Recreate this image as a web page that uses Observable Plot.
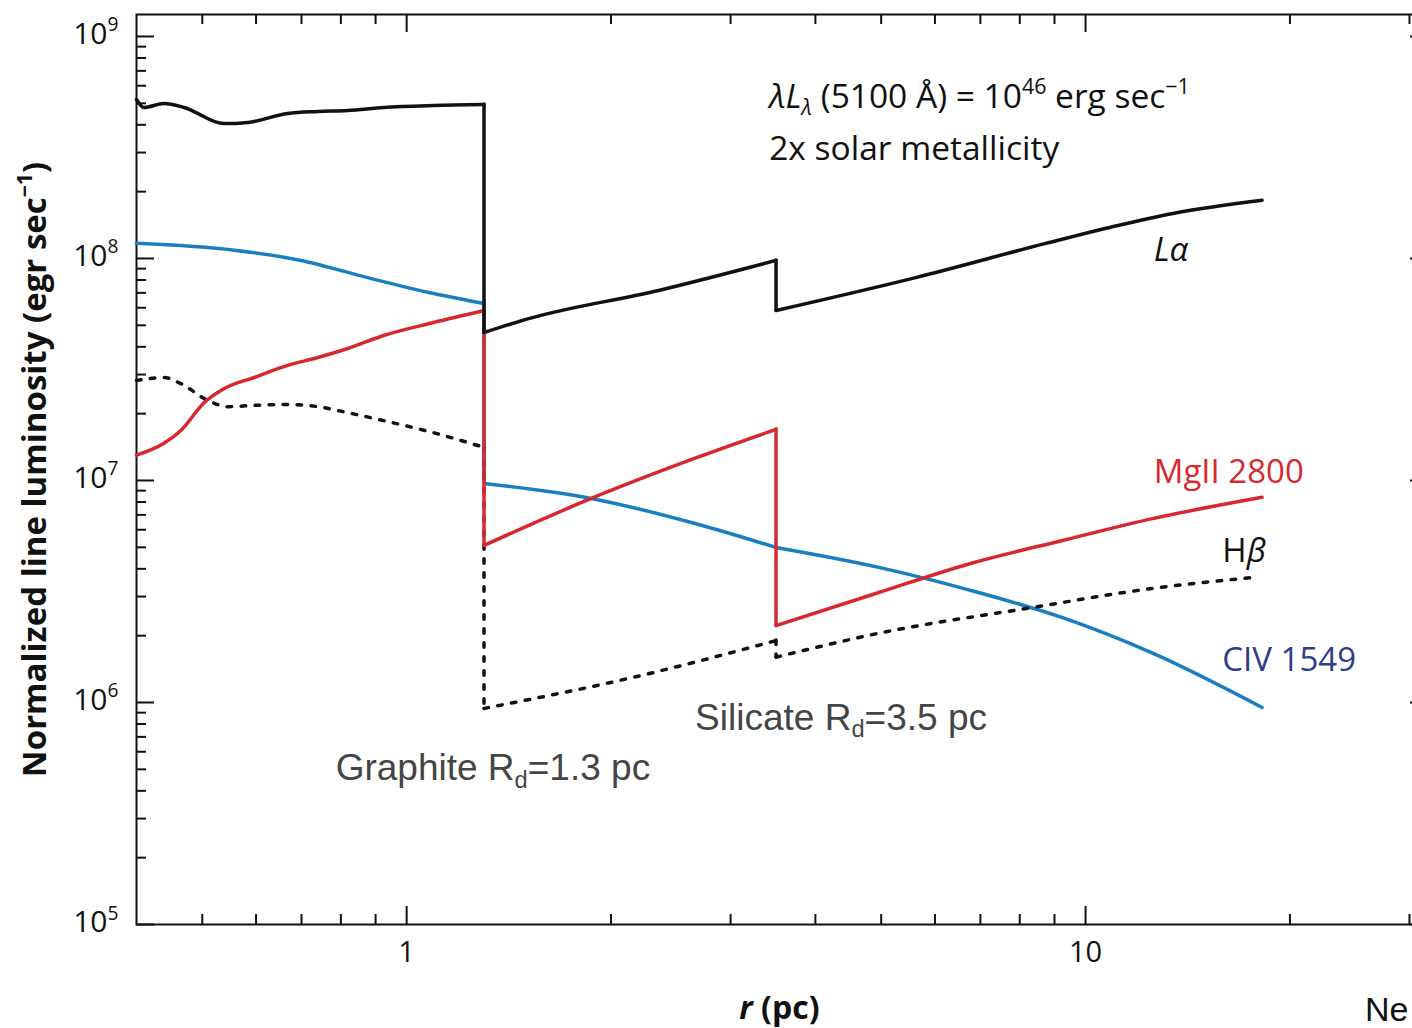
<!DOCTYPE html>
<html>
<head>
<meta charset="utf-8">
<script src="https://cdn.jsdelivr.net/npm/d3@7"></script>
<script src="https://cdn.jsdelivr.net/npm/@observablehq/plot@0.6"></script>
<style>
  html, body { margin: 0; padding: 0; overflow: hidden; background: #fff; }
  #chart { width: 1412px; height: 1028px; overflow: hidden; position: relative; }
  #chart svg { display: block; overflow: hidden; }
</style>
</head>
<body>
<div id="chart"></div>
<script>
// Radius (pc) and normalized line luminosity (erg/s) for each emission line.
// A repeated radius marks a break: a sudden drop at the graphite (1.3 pc) or silicate (3.5 pc) dust radius.
const lyaR = [0.4, 0.41, 0.439, 0.47, 0.538, 0.584, 0.668, 0.74, 0.819, 0.925, 1.096, 1.3,
              1.3, 1.517, 2.35, 3.5, 3.5, 5.62, 8.74, 10.85, 13.5, 18.2];
const lyaL = [5.2e8, 4.79e8, 4.99e8, 4.79e8, 4.05e8, 4.10e8, 4.50e8, 4.59e8, 4.64e8, 4.79e8, 4.89e8, 4.94e8,
              4.64e7, 5.37e7, 7.18e7, 9.8e7, 5.83e7, 8.2e7, 1.17e8, 1.38e8, 1.60e8, 1.83e8];

const civR = [0.4, 0.557, 0.699, 0.876, 1.096, 1.3, 1.3, 1.87, 2.66, 3.5, 3.5, 4.96, 6.77, 9.25, 12.6, 18.2];
const civL = [1.17e8, 1.09e8, 9.8e7, 8.2e7, 6.95e7, 6.27e7, 9.7e6, 8.3e6, 6.4e6, 4.99e6, 4.99e6, 4.06e6, 3.2e6,
              2.41e6, 1.66e6, 9.5e5];

const mgR = [0.4, 0.439, 0.465, 0.503, 0.538, 0.596, 0.668, 0.74, 0.819, 0.925, 1.096, 1.3,
             1.3, 1.87, 2.66, 3.5, 3.5, 4.96, 6.77, 9.25, 12.6, 18.2];
const mgL = [1.30e7, 1.47e7, 1.68e7, 2.24e7, 2.59e7, 2.91e7, 3.30e7, 3.58e7, 3.93e7, 4.50e7, 5.15e7, 5.83e7,
             5.1e6, 8.3e6, 1.26e7, 1.70e7, 2.22e6, 3.13e6, 4.23e6, 5.37e6, 6.75e6, 8.4e6];

const hbR = [0.4, 0.439, 0.465, 0.51, 0.545, 0.596, 0.668, 0.74, 0.819, 0.925, 1.096, 1.3,
             1.3, 2.16, 3.5, 3.5, 4.96, 8.36, 12.6, 17.7];
const hbL = [2.82e7, 2.91e7, 2.73e7, 2.29e7, 2.15e7, 2.18e7, 2.20e7, 2.15e7, 2.02e7, 1.86e7, 1.64e7, 1.41e7,
             9.4e5, 1.30e6, 1.90e6, 1.60e6, 2.05e6, 2.68e6, 3.27e6, 3.66e6];

// Axis ticks
const xMajor = [1, 10];
const xMinor = [0.5, 0.6, 0.7, 0.8, 0.9, 2, 3, 4, 5, 6, 7, 8, 9, 20, 30];
const xTickLabels = ["1", "10"];
const yMajor = [1e5, 1e6, 1e7, 1e8, 1e9];
const yMinor = [5, 6, 7, 8].flatMap(k => [2, 3, 4, 5, 6, 7, 8, 9].map(m => m * 10 ** k));
const yTickLabels = ["10^{5}", "10^{6}", "10^{7}", "10^{8}", "10^{9}"];

// Text annotations placed in data coordinates (^{} superscript, _{} subscript, *..* italic)
const headerNotes = [
  {r: 3.42, L: 5.31e8, text: "*λL*_{*λ*} (5100 Å) = 10^{46} erg sec^{−1}"},
  {r: 3.42, L: 3.10e8, text: "2x solar metallicity"}
];
const lineNotes = [
  {r: 12.6, L: 1.09e8, text: "*Lα*", color: "#111111"},
  {r: 12.6, L: 1.09e7, text: "MgII 2800", color: "#d7282f"},
  {r: 15.9, L: 4.79e6, text: "H*β*", color: "#111111"},
  {r: 15.9, L: 1.55e6, text: "CIV 1549", color: "#2e3b8e"}
];
const dustNotes = [
  {r: 2.66, L: 8.5e5, text: "Silicate R_{d}=3.5 pc"},
  {r: 0.786, L: 5.05e5, text: "Graphite R_{d}=1.3 pc"}
];

// Split a series into smooth pieces at each break, keeping the vertical drops.
function pieces(R, L) {
  let seg = 0;
  const pts = [], drops = [];
  R.forEach((r, i) => {
    if (i > 0 && R[i - 1] === r) {
      if (L[i - 1] !== L[i]) drops.push({r, L1: L[i - 1], L2: L[i]});
      seg++;
    }
    pts.push({r, L: L[i], seg});
  });
  return {pts, drops};
}
const lya = pieces(lyaR, lyaL);
const civ = pieces(civR, civL);
const mg = pieces(mgR, mgL);
const hb = pieces(hbR, hbL);

const W = 1412, H = 1028;
const mL = 136, mR = -16, mT = 14, mB = 104;   // right edge of the frame lies just past the page
const fw = W - mL - mR, fh = H - mT - mB;
const major = 18, minor = 10;
const sans = "'Open Sans', sans-serif";
const arial = "'Liberation Sans', Arial, sans-serif";

function seriesMarks(s, stroke, extra = {}) {
  return [
    Plot.line(s.pts, {x: "r", y: "L", z: "seg", curve: "monotone-x", stroke, strokeWidth: 3.5,
      strokeLinecap: "round", ...extra}),
    Plot.ruleX(s.drops, {x: "r", y1: "L1", y2: "L2", stroke, strokeWidth: 3.5, strokeLinecap: "round", ...extra})
  ];
}
const dashed = {strokeDasharray: "4.5,9.5"};

const plot = Plot.plot({
  width: W, height: H,
  marginLeft: mL, marginRight: mR, marginTop: mT, marginBottom: mB,
  x: {type: "log", domain: [0.4, 32], axis: null},
  y: {type: "log", domain: [1e5, 1.256e9], axis: null},
  style: {fontFamily: sans, background: "#fff", color: "#111", overflow: "hidden"},
  marks: [
    // inward ticks on all four sides
    Plot.ruleX(xMajor, {x: d => d, insetTop: fh - major, stroke: "#111", strokeWidth: 2}),
    Plot.ruleX(xMajor, {x: d => d, insetBottom: fh - major, stroke: "#111", strokeWidth: 2}),
    Plot.ruleX(xMinor, {x: d => d, insetTop: fh - minor, stroke: "#111", strokeWidth: 2}),
    Plot.ruleX(xMinor, {x: d => d, insetBottom: fh - minor, stroke: "#111", strokeWidth: 2}),
    Plot.ruleY(yMajor, {y: d => d, insetRight: fw - major, stroke: "#111", strokeWidth: 2}),
    Plot.ruleY(yMajor, {y: d => d, insetLeft: fw - major, stroke: "#111", strokeWidth: 2}),
    Plot.ruleY(yMinor, {y: d => d, insetRight: fw - minor, stroke: "#111", strokeWidth: 2}),
    Plot.ruleY(yMinor, {y: d => d, insetLeft: fw - minor, stroke: "#111", strokeWidth: 2}),
    Plot.frame({stroke: "#111", strokeWidth: 2}),

    // tick labels
    Plot.text(yMajor, {y: d => d, text: (d, i) => yTickLabels[i], frameAnchor: "left", dx: -18,
      textAnchor: "end", lineAnchor: "middle", dy: -2, fontSize: 30, className: "rich"}),
    Plot.text(xMajor, {x: d => d, text: (d, i) => xTickLabels[i], frameAnchor: "bottom", dy: 28,
      lineAnchor: "middle", fontSize: 29}),

    // axis titles
    Plot.text(["Normalized line luminosity (egr sec^{−1})"], {frameAnchor: "left", dx: -101, rotate: -90,
      textAnchor: "middle", lineAnchor: "middle", fontSize: 33, fontWeight: "bold", className: "rich"}),
    Plot.text(["*r* (pc)"], {x: [3.54], frameAnchor: "bottom", dy: 84, lineAnchor: "middle", textAnchor: "middle",
      fontSize: 32, fontWeight: "bold", className: "rich"}),
    Plot.text(["Ne"], {x: [25.8], frameAnchor: "bottom", dy: 86, textAnchor: "start", lineAnchor: "middle",
      fontSize: 34, fontFamily: arial}),

    // emission lines
    ...seriesMarks(civ, "#1a7fc1"),
    ...seriesMarks(hb, "#111", dashed),
    ...seriesMarks(mg, "#d7282f"),
    ...seriesMarks(lya, "#111"),

    // annotations
    Plot.text(headerNotes, {x: "r", y: "L", text: "text", textAnchor: "start", lineAnchor: "middle",
      fontSize: 33.5, className: "rich"}),
    Plot.text(lineNotes, {x: "r", y: "L", text: "text", fill: "color", textAnchor: "start", lineAnchor: "middle",
      fontSize: 33, className: "rich"}),
    Plot.text(dustNotes, {x: "r", y: "L", text: "text", textAnchor: "start", lineAnchor: "middle", fontSize: 37,
      fill: "#454545", fontFamily: arial, className: "rich"})
  ]
});

document.getElementById("chart").appendChild(plot);

// Turn the ^{..}, _{..} and *..* markup into tspans.
function enrich(root) {
  root.querySelectorAll("g.rich text").forEach(el => {
    const src = el.textContent;
    const fs = parseFloat(getComputedStyle(el).fontSize);
    el.textContent = "";
    let cur = 0;
    const re = /\^\{([^}]*)\}|_\{([^}]*)\}|\*([^*]*)\*|([^^_*]+)/g;
    let m;
    while ((m = re.exec(src))) {
      let txt, off = 0, size = null;
      if (m[1] !== undefined) { txt = m[1]; off = -0.42 * fs; size = 0.64 * fs; }
      else if (m[2] !== undefined) { txt = m[2]; off = 0.2 * fs; size = 0.64 * fs; }
      else if (m[3] !== undefined) { txt = m[3]; }
      else txt = m[4];
      // italic markup may also sit inside a sub/superscript
      const inner = txt.split(/\*([^*]*)\*/);
      inner.forEach((piece, j) => {
        if (!piece) return;
        const t = document.createElementNS("http://www.w3.org/2000/svg", "tspan");
        t.textContent = piece;
        if (off !== cur) { t.setAttribute("dy", off - cur); cur = off; }
        if (size) t.setAttribute("font-size", size);
        if (m[3] !== undefined || j % 2 === 1) t.setAttribute("font-style", "italic");
        el.appendChild(t);
      });
    }
  });
}
enrich(plot);
</script>
</body>
</html>
